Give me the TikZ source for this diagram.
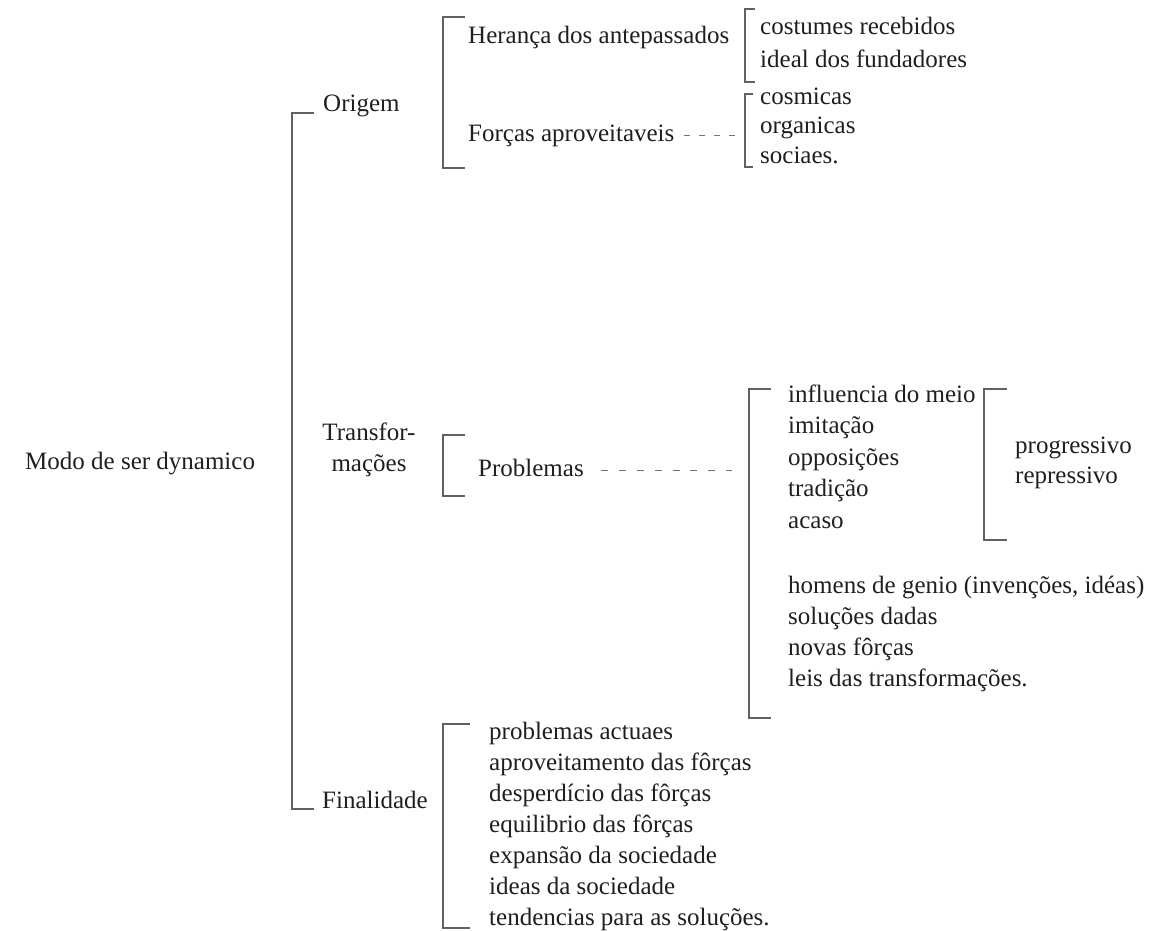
\documentclass[tikz,border=0pt]{standalone}
\usepackage{fontspec}
\setmainfont{Liberation Serif}
\usepackage{tikz}
\usetikzlibrary{positioning, calc}

\tikzset{
  txt/.style={font=\fontsize{25}{31}\selectfont, text=black!88, inner sep=0pt,
    text height=18pt, text depth=6pt, anchor=west},
  brk/.style={draw=black!62, line width=1.5pt},
  leader/.style={draw=black!55, line width=0.9pt, dash pattern=on 7pt off 8pt}
}

\begin{document}
\begin{tikzpicture}[x=1pt, y=-1pt]
    \useasboundingbox (0,0) rectangle (1153,930);

    % root and first level
    \node[txt] (modo) at (25,463) {Modo de ser dynamico};
    \node[txt] (origem) at (323,105) {Origem};
    \node[txt, anchor=center, align=center] (transf) at (369,465) {Transfor-\\ma\c{c}\~oes};
    \node[txt] (final) at (322,802) {Finalidade};
    \draw[brk] (314,113) -| (292,809) -- (314,809);

    % Origem
    \draw[brk] (465,17) -| (443,168) -- (465,168);
    \node[txt] (heranca) at (468,37) {Heran\c{c}a dos antepassados};
    \node[txt] (forcas) at (468,135) {For\c{c}as aproveitaveis};
    \coordinate (fend) at (735,135);
    \draw[leader, dash pattern=on 6pt off 9pt] ([xshift=9pt]forcas.east) -- (fend);

    \draw[brk] (755,9) -| (745,82) -- (755,82);
    \foreach \t [count=\k] in {costumes recebidos, ideal dos fundadores} {
        \node[txt] (c\k) at (760,28+33*\k-33) {\t};
    }
    \draw[brk] (753,94) -| (745,167) -- (753,167);
    \foreach \t [count=\k] in {cosmicas, organicas, sociaes.} {
        \node[txt] (f\k) at (760,98+29.5*\k-29.5) {\t};
    }

    % Transformacoes
    \draw[brk] (465,435) -| (443,496) -- (465,496);
    \node[txt] (problemas) at (478,470) {Problemas};
    \coordinate (pend) at (732,470);
    \draw[leader, dash pattern=on 7pt off 10.9pt] ([xshift=17pt]problemas.east) -- (pend);

    \draw[brk] (771,389) -| (749,718) -- (771,718);
    \foreach \t [count=\k] in {influencia do meio, imita\c{c}\~ao, opposi\c{c}\~oes, tradi\c{c}\~ao, acaso} {
        \node[txt] (m\k) at (788,396+31.5*\k-31.5) {\t};
    }
    \draw[brk] (1007,389) -| (984,540) -- (1007,540);
    \foreach \t [count=\k] in {progressivo, repressivo} {
        \node[txt] (p\k) at (1015,447+30*\k-30) {\t};
    }
    \foreach \t [count=\k] in {{homens de genio (inven\c{c}\~oes, id\'eas)}, solu\c{c}\~oes dadas, novas f\^or\c{c}as, leis das transforma\c{c}\~oes.} {
        \node[txt] (g\k) at (788,587+31*\k-31) {\t};
    }

    % Finalidade
    \draw[brk] (470,724) -| (443,928) -- (470,928);
    \foreach \t [count=\k] in {problemas actuaes, aproveitamento das f\^or\c{c}as, desperd\'icio das f\^or\c{c}as,
        equilibrio das f\^or\c{c}as, expans\~ao da sociedade, ideas da sociedade, tendencias para as solu\c{c}\~oes.} {
        \node[txt] (a\k) at (489,733+31*\k-31) {\t};
    }
\end{tikzpicture}
\end{document}
